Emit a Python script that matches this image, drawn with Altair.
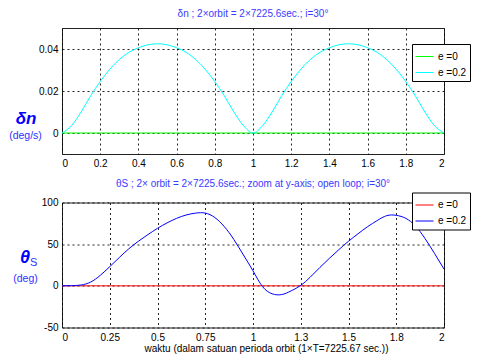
import altair as alt
import pandas as pd

# ---------------- data ----------------
t = [0, 0.05, 0.1, 0.15, 0.2, 0.25, 0.3, 0.35, 0.4, 0.45, 0.5,
     0.55, 0.6, 0.65, 0.7, 0.75, 0.8, 0.85, 0.9, 0.95, 1.0,
     1.05, 1.1, 1.15, 1.2, 1.25, 1.3, 1.35, 1.4, 1.45, 1.5,
     1.55, 1.6, 1.65, 1.7, 1.75, 1.8, 1.85, 1.9, 1.95, 2.0]

dn_e0 = [0.0] * 41
dn_e02 = [0.0, 0.0035, 0.0100, 0.0177, 0.0245, 0.0303, 0.0350, 0.0384, 0.0406, 0.0420, 0.0425,
          0.0420, 0.0406, 0.0384, 0.0350, 0.0303, 0.0245, 0.0177, 0.0100, 0.0035, 0.0,
          0.0035, 0.0100, 0.0177, 0.0245, 0.0303, 0.0350, 0.0384, 0.0406, 0.0420, 0.0425,
          0.0420, 0.0406, 0.0384, 0.0350, 0.0303, 0.0245, 0.0177, 0.0100, 0.0035, 0.0]

th_e0 = [0.0] * 41
th_e02 = [0, 0.2, 1.0, 4.5, 12.5, 23, 34, 44.5, 53.5, 61.5, 69,
          75.5, 81, 85, 87.3, 87.3, 82, 71, 55.5, 37, 18,
          -1, -9.5, -10.5, -6, 0.5, 10.5, 22, 33, 43.5, 53.5,
          62.5, 71, 78.3, 84.2, 84.6, 81, 72, 57, 39, 20.2]

series = ["e =0", "e =0.2"]
top_colors = ["#00ff00", "#00ffff"]
bot_colors = ["#ff0000", "#0000ff"]

top_title = "δn ; 2×orbit = 2×7225.6sec.; i=30°"
bot_title = "θS ; 2× orbit = 2×7225.6sec.; zoom at y-axis; open loop; i=30°"
x_title = "waktu (dalam satuan perioda orbit (1×T=7225.67 sec.))"
top_ylab = ["δn", "(deg/s)"]
bot_ylab = ["θ", "S", "(deg)"]

top_xticks = [0, 0.2, 0.4, 0.6, 0.8, 1, 1.2, 1.4, 1.6, 1.8, 2]
top_yticks = [0, 0.02, 0.04]
bot_xticks = [0, 0.25, 0.5, 0.75, 1, 1.25, 1.5, 1.75, 2]
bot_yticks = [-50, 0, 50, 100]

FONT = "Liberation Sans"
W, H1, H2 = 382, 126, 125

top_df = pd.DataFrame({"t": t + t, "v": dn_e0 + dn_e02,
                       "s": [series[0]] * 41 + [series[1]] * 41})
bot_df = pd.DataFrame({"t": t + t, "v": th_e0 + th_e02,
                       "s": [series[0]] * 41 + [series[1]] * 41})

def legend(ly):
    return alt.Legend(orient="none", legendX=350, legendY=ly, title=None,
                      symbolType="stroke", symbolSize=324, symbolStrokeWidth=1,
                      fillColor="white", strokeColor="black", padding=3,
                      labelFont=FONT, labelFontSize=10, labelColor="black",
                      labelOffset=4, rowPadding=1)

grid = dict(grid=True, gridDash=[2, 3], gridColor="#000000", gridOpacity=0.85,
            ticks=False, domain=False, labelFont=FONT, labelFontSize=10,
            labelColor="black")

top_lines = alt.Chart(top_df).mark_line(strokeWidth=1, interpolate="monotone").encode(
    x=alt.X("t:Q", scale=alt.Scale(domain=[0, 2], nice=False),
            axis=alt.Axis(values=top_xticks, format="~g", title=None, labelPadding=4, **grid)),
    y=alt.Y("v:Q", scale=alt.Scale(domain=[-0.01, 0.05], nice=False, zero=False),
            axis=alt.Axis(values=top_yticks, format="~g", title=None, labelPadding=4, **grid)),
    color=alt.Color("s:N", scale=alt.Scale(domain=series, range=top_colors), legend=legend(16)),
)

ylab_top = pd.DataFrame({"txt": top_ylab})
top_sym = alt.Chart(ylab_top.iloc[[0]]).mark_text(
    font=FONT, fontSize=17, fontWeight="bold", fontStyle="italic", color="#0000ff",
    align="center", baseline="middle").encode(
    text="txt:N", x=alt.value(-36), y=alt.value(91))
top_unit = alt.Chart(ylab_top.iloc[[1]]).mark_text(
    font=FONT, fontSize=10.5, color="#2f2fff", align="center", baseline="middle").encode(
    text="txt:N", x=alt.value(-36.5), y=alt.value(108))

top = alt.layer(top_lines, top_sym, top_unit).properties(
    width=W, height=H1,
    title=alt.TitleParams(top_title, font=FONT, fontSize=10, fontWeight="normal",
                          color="#3a3aff", frame="group", anchor="middle", offset=9.5))

bot_lines = alt.Chart(bot_df).mark_line(strokeWidth=1, interpolate="natural").encode(
    x=alt.X("t:Q", scale=alt.Scale(domain=[0, 2], nice=False),
            axis=alt.Axis(values=bot_xticks, format="~g", title=x_title, labelPadding=5,
                          titleFont=FONT, titleFontSize=10, titleFontWeight="normal",
                          titleColor="black", titlePadding=1, titleX=204, **grid)),
    y=alt.Y("v:Q", scale=alt.Scale(domain=[-50, 100], nice=False),
            axis=alt.Axis(values=bot_yticks, labelExpr="'' + datum.value", title=None,
                          labelPadding=4, **grid)),
    color=alt.Color("s:N", scale=alt.Scale(domain=series, range=bot_colors), legend=legend(-10)),
)

ylab_bot = pd.DataFrame({"txt": bot_ylab})
bot_sym = alt.Chart(ylab_bot.iloc[[0]]).mark_text(
    font=FONT, fontSize=18, fontWeight="bold", fontStyle="italic", color="#0000ff",
    align="center", baseline="middle").encode(
    text="txt:N", x=alt.value(-37), y=alt.value(55))
bot_sub = alt.Chart(ylab_bot.iloc[[1]]).mark_text(
    font=FONT, fontSize=11, color="#2f2fff", align="left", baseline="middle").encode(
    text="txt:N", x=alt.value(-32), y=alt.value(60))
bot_unit = alt.Chart(ylab_bot.iloc[[2]]).mark_text(
    font=FONT, fontSize=10.5, color="#2f2fff", align="center", baseline="middle").encode(
    text="txt:N", x=alt.value(-36.5), y=alt.value(76))

bot = alt.layer(bot_lines, bot_sym, bot_sub, bot_unit).properties(
    width=W, height=H2,
    title=alt.TitleParams(bot_title, font=FONT, fontSize=10, fontWeight="normal",
                          color="#3a3aff", frame="group", anchor="middle", offset=3))

chart = alt.vconcat(top, bot, spacing=9.5).resolve_scale(color="independent").resolve_legend(
    color="independent").properties(
    padding={"left": 0, "top": 0, "right": 0, "bottom": 0},
    background="white",
).configure_view(stroke="#222222", strokeWidth=1)

chart.save("out.html", embed_options={"renderer": "svg", "actions": False})
